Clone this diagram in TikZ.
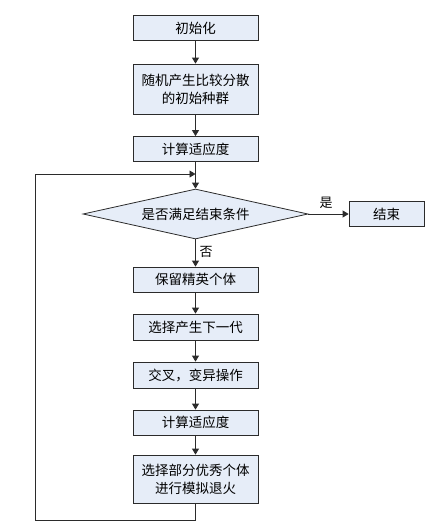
\documentclass[tikz,border=0pt]{standalone}
\usepackage{fontspec}
\newfontfamily\cjk{Noto Sans CJK SC}
\usetikzlibrary{arrows.meta,shapes.geometric,positioning}

\definecolor{boxblue}{HTML}{E6EDF8}
\definecolor{edgegray}{HTML}{2B2B2B}

\tikzset{
	stepbox/.style={draw=edgegray, fill=boxblue, line width=0.8pt, minimum width=125pt, minimum height=25pt, inner sep=0pt, align=center, font=\cjk\fontsize{13.5}{18}\selectfont},
	decide/.style={diamond, draw=edgegray, fill=boxblue, line width=0.8pt, aspect=4.5, minimum width=225pt, minimum height=50pt, inner sep=0pt, font=\cjk\fontsize{13.5}{18}\selectfont},
	flow/.style={draw=edgegray, line width=0.8pt, -{Triangle[length=6pt,width=7pt]}},
	tag/.style={font=\cjk\fontsize{13}{16}\selectfont, inner sep=0pt}
}

\begin{document}
\begin{tikzpicture}[x=1pt,y=-1pt]
			\useasboundingbox (0,0) rectangle (437,531);
			% main column
			\node [stepbox] (init) at (195.5,28) {初始化};
			\node [stepbox, minimum height=50pt] (pop) at (195.5,89) {随机产生比较分散\\的初始种群};
			\node [stepbox] (fit) at (195.5,149) {计算适应度};
			\node [decide] (cond) at (195.5,214) {是否满足结束条件};
			\node [stepbox, minimum width=75pt] (stop) at (386.5,214) {结束};
			\node [stepbox] (elite) at (195.5,279.5) {保留精英个体};
			\node [stepbox, minimum height=26pt] (select) at (195.5,327) {选择产生下一代};
			\node [stepbox, minimum height=26pt] (cross) at (195.5,375) {交叉，变异操作};
			\node [stepbox] (refit) at (195.5,422.5) {计算适应度};
			\node [stepbox, minimum height=48pt] (anneal) at (195.5,479) {选择部分优秀个体\\进行模拟退火};
			% labels
			\node [tag] (yes) at (326,203) {是};
			\node [tag] (no) at (206,252) {否};
			% arrows
			\draw [flow] (init) -- (pop);
			\draw [flow] (pop) -- (fit);
			\draw [flow] (fit) -- (cond);
			\draw [flow] (cond) -- (stop);
			\draw [flow] (cond) -- (elite);
			\draw [flow] (elite) -- (select);
			\draw [flow] (select) -- (cross);
			\draw [flow] (cross) -- (refit);
			\draw [flow] (refit) -- (anneal);
			% loop back
			\coordinate (loopin) at (195.5,174);
			\coordinate (loopbot) at (195.5,520);
			\coordinate (loopleft) at (35,520);
			\draw [flow] (anneal) -- (loopbot) -- (loopleft) |- (loopin);
		\end{tikzpicture}
\end{document}
